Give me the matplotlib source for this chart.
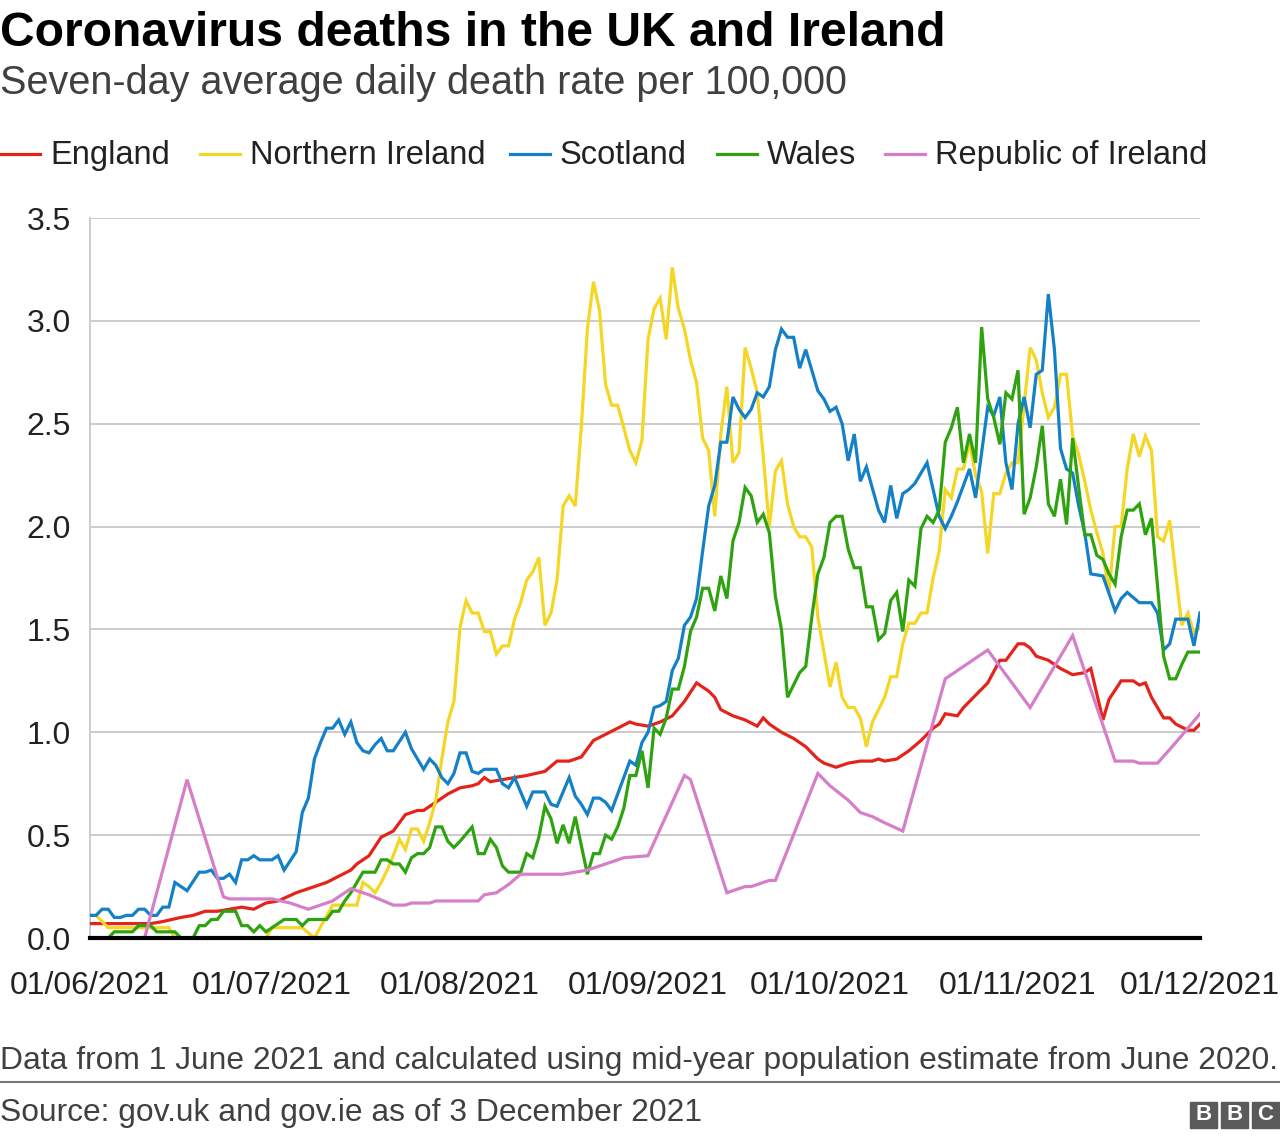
import matplotlib
matplotlib.use('Agg')
import matplotlib.pyplot as plt
import matplotlib.dates as mdates
from matplotlib.lines import Line2D
from matplotlib.patches import Rectangle
import numpy as np
import pandas as pd

plt.rcParams['font.family'] = ['Liberation Sans', 'DejaVu Sans']

start = pd.Timestamp('2021-06-01')

# day offsets from 1 June 2021 and 7-day avg death rate per 100,000
eng_days = [0, 10, 12, 15, 17, 19, 21, 23, 25, 27, 29, 31, 34, 36, 39, 41, 43, 44, 46, 48,
            50, 52, 54, 55, 57, 59, 61, 63, 64, 65, 66, 68, 70, 72, 75, 77, 79, 81, 83, 85,
            87, 89, 90, 92, 94, 96, 98, 100, 102, 103, 104, 106, 108, 110, 111, 112, 114, 116, 118, 120,
            121, 123, 125, 127, 129, 130, 131, 133, 135, 137, 139, 140, 141, 143, 144, 146, 148, 150, 151, 153,
            154, 155, 156, 158, 159, 160, 162, 164, 165, 167, 168, 170, 172, 173, 174, 175, 176, 177, 178, 179,
            181, 182, 183]
eng_vals = [0.07, 0.07, 0.08, 0.10, 0.11, 0.13, 0.13, 0.14, 0.15, 0.14, 0.17, 0.18, 0.22, 0.24, 0.27, 0.30, 0.33, 0.36, 0.40, 0.49,
            0.52, 0.60, 0.62, 0.62, 0.66, 0.70, 0.73, 0.74, 0.75, 0.78, 0.76, 0.77, 0.78, 0.79, 0.81, 0.86, 0.86, 0.88, 0.96, 0.99,
            1.02, 1.05, 1.04, 1.03, 1.05, 1.08, 1.15, 1.24, 1.20, 1.17, 1.11, 1.08, 1.06, 1.03, 1.07, 1.04, 1.00, 0.97, 0.93, 0.87,
            0.85, 0.83, 0.85, 0.86, 0.86, 0.87, 0.86, 0.87, 0.91, 0.96, 1.02, 1.04, 1.09, 1.08, 1.12, 1.18, 1.24, 1.35, 1.35, 1.43,
            1.43, 1.41, 1.37, 1.35, 1.33, 1.31, 1.28, 1.29, 1.31, 1.06, 1.16, 1.25, 1.25, 1.23, 1.24, 1.17, 1.12, 1.07, 1.07, 1.04,
            1.01, 1.01, 1.04]

ni_days = [0, 1, 3, 7, 13, 14, 29, 30, 35, 37, 40, 44, 45, 46, 47, 48, 49, 50, 51, 52,
           53, 54, 55, 56, 57, 58, 59, 60, 61, 62, 63, 64, 65, 66, 67, 68, 69, 70, 71, 72,
           73, 74, 75, 76, 77, 78, 79, 80, 81, 82, 83, 84, 85, 86, 87, 88, 89, 90, 91, 92,
           93, 94, 95, 96, 97, 98, 99, 100, 101, 102, 103, 104, 105, 106, 107, 108, 109, 110, 111, 112,
           113, 114, 115, 116, 117, 118, 119, 120, 121, 122, 123, 124, 125, 126, 127, 128, 129, 130, 131, 132,
           133, 134, 135, 136, 137, 138, 139, 140, 141, 142, 143, 144, 145, 146, 147, 148, 149, 150, 151, 152,
           153, 154, 155, 156, 157, 158, 159, 160, 161, 162, 163, 164, 165, 166, 167, 168, 169, 170, 171, 172,
           173, 174, 175, 176, 177, 178, 179, 180, 181, 182, 183]
ni_vals = [0.11, 0.11, 0.05, 0.05, 0.05, 0.0, 0.0, 0.05, 0.05, 0.0, 0.16, 0.16, 0.27, 0.25, 0.22, 0.27, 0.33, 0.40, 0.48, 0.43,
           0.53, 0.53, 0.47, 0.56, 0.67, 0.87, 1.05, 1.15, 1.51, 1.64, 1.58, 1.58, 1.49, 1.49, 1.38, 1.42, 1.42, 1.55, 1.63, 1.74,
           1.78, 1.85, 1.52, 1.58, 1.74, 2.10, 2.15, 2.10, 2.48, 2.96, 3.19, 3.05, 2.69, 2.59, 2.59, 2.48, 2.37, 2.31, 2.42, 2.91,
           3.06, 3.11, 2.91, 3.26, 3.06, 2.96, 2.81, 2.70, 2.43, 2.37, 2.05, 2.45, 2.68, 2.31, 2.36, 2.87, 2.77, 2.65, 2.34, 2.00,
           2.27, 2.32, 2.11, 2.00, 1.95, 1.95, 1.90, 1.56, 1.39, 1.22, 1.34, 1.17, 1.12, 1.12, 1.07, 0.93, 1.05, 1.11, 1.17, 1.27,
           1.27, 1.43, 1.53, 1.53, 1.58, 1.58, 1.75, 1.88, 2.18, 2.14, 2.28, 2.28, 2.41, 2.25, 2.17, 1.87, 2.16, 2.16, 2.26, 2.31,
           2.31, 2.59, 2.87, 2.81, 2.65, 2.53, 2.58, 2.74, 2.74, 2.44, 2.35, 2.22, 2.08, 1.97, 1.87, 1.68, 2.00, 2.00, 2.28, 2.45,
           2.34, 2.44, 2.37, 1.95, 1.93, 2.03, 1.77, 1.52, 1.58, 1.48, 1.51]

sco_days = [0, 1, 2, 3, 4, 5, 6, 7, 8, 9, 10, 11, 12, 13, 14, 16, 18, 19, 20, 21,
            22, 23, 24, 25, 26, 27, 28, 30, 31, 32, 34, 35, 36, 37, 38, 39, 40, 41, 42, 43,
            44, 45, 46, 47, 48, 49, 50, 52, 53, 55, 56, 57, 58, 59, 60, 61, 62, 63, 64, 65,
            67, 68, 69, 70, 72, 73, 75, 76, 77, 79, 80, 81, 82, 83, 84, 85, 86, 87, 89, 90,
            91, 92, 93, 94, 95, 96, 97, 98, 99, 100, 101, 102, 103, 104, 105, 106, 107, 108, 109, 110,
            111, 112, 113, 114, 115, 116, 117, 118, 120, 121, 122, 123, 124, 125, 126, 127, 128, 130, 131, 132,
            133, 134, 135, 136, 137, 138, 140, 141, 142, 143, 145, 146, 148, 149, 150, 151, 152, 153, 154, 155,
            156, 157, 158, 159, 160, 161, 162, 163, 164, 165, 167, 169, 170, 171, 173, 175, 176, 177, 178, 179,
            181, 182, 183]
sco_vals = [0.11, 0.11, 0.14, 0.14, 0.10, 0.10, 0.11, 0.11, 0.14, 0.14, 0.11, 0.11, 0.15, 0.15, 0.27, 0.23, 0.32, 0.32, 0.33, 0.29,
            0.29, 0.31, 0.27, 0.38, 0.38, 0.40, 0.38, 0.38, 0.40, 0.33, 0.42, 0.61, 0.68, 0.87, 0.95, 1.02, 1.02, 1.06, 0.99, 1.05,
            0.95, 0.91, 0.90, 0.94, 0.97, 0.91, 0.91, 1.00, 0.92, 0.82, 0.87, 0.84, 0.78, 0.75, 0.80, 0.90, 0.90, 0.81, 0.80, 0.82,
            0.82, 0.75, 0.73, 0.78, 0.64, 0.71, 0.71, 0.65, 0.64, 0.78, 0.69, 0.65, 0.60, 0.68, 0.68, 0.66, 0.62, 0.70, 0.86, 0.84,
            0.95, 1.00, 1.12, 1.13, 1.15, 1.30, 1.36, 1.52, 1.56, 1.65, 1.88, 2.10, 2.20, 2.41, 2.41, 2.63, 2.57, 2.53, 2.57, 2.65,
            2.63, 2.68, 2.86, 2.96, 2.92, 2.92, 2.77, 2.86, 2.66, 2.62, 2.56, 2.58, 2.50, 2.32, 2.45, 2.22, 2.29, 2.08, 2.02, 2.20,
            2.04, 2.16, 2.18, 2.21, 2.26, 2.31, 2.05, 1.99, 2.05, 2.12, 2.28, 2.14, 2.58, 2.54, 2.63, 2.31, 2.18, 2.50, 2.63, 2.48,
            2.74, 2.76, 3.13, 2.86, 2.38, 2.28, 2.26, 2.10, 1.97, 1.77, 1.76, 1.59, 1.65, 1.68, 1.63, 1.63, 1.58, 1.40, 1.43, 1.55,
            1.55, 1.42, 1.58]

wal_days = [0, 3, 4, 7, 8, 10, 11, 14, 15, 17, 18, 19, 20, 21, 22, 24, 25, 26, 27, 28,
            29, 30, 32, 34, 35, 36, 39, 40, 41, 42, 43, 45, 47, 48, 49, 50, 51, 52, 53, 54,
            55, 56, 57, 58, 59, 60, 61, 63, 64, 65, 66, 67, 68, 69, 71, 72, 73, 74, 75, 76,
            77, 78, 79, 80, 82, 83, 84, 85, 86, 87, 88, 89, 90, 91, 92, 93, 94, 95, 96, 97,
            98, 99, 100, 101, 102, 103, 104, 105, 106, 107, 108, 109, 110, 111, 112, 113, 114, 115, 116, 117,
            118, 119, 120, 121, 122, 123, 124, 125, 126, 127, 128, 129, 130, 131, 132, 133, 134, 135, 136, 137,
            138, 139, 140, 141, 142, 143, 144, 145, 146, 147, 148, 149, 150, 151, 152, 153, 154, 155, 156, 157,
            158, 159, 160, 161, 162, 163, 164, 165, 166, 167, 168, 169, 170, 171, 172, 173, 174, 175, 176, 177,
            178, 179, 180, 181, 183]
wal_vals = [0.0, 0.0, 0.03, 0.03, 0.06, 0.06, 0.03, 0.03, 0.0, 0.0, 0.06, 0.06, 0.09, 0.09, 0.13, 0.13, 0.06, 0.06, 0.03, 0.06,
            0.03, 0.05, 0.09, 0.09, 0.06, 0.09, 0.09, 0.13, 0.13, 0.18, 0.22, 0.32, 0.32, 0.38, 0.38, 0.36, 0.36, 0.32, 0.39, 0.41,
            0.41, 0.44, 0.54, 0.54, 0.47, 0.44, 0.47, 0.54, 0.41, 0.41, 0.48, 0.44, 0.35, 0.32, 0.32, 0.41, 0.39, 0.49, 0.64, 0.58,
            0.46, 0.55, 0.46, 0.59, 0.31, 0.41, 0.41, 0.50, 0.48, 0.54, 0.63, 0.79, 0.79, 0.91, 0.73, 1.02, 0.99, 1.07, 1.21, 1.21,
            1.32, 1.49, 1.56, 1.70, 1.70, 1.59, 1.76, 1.65, 1.93, 2.02, 2.19, 2.15, 2.02, 2.06, 1.97, 1.66, 1.50, 1.17, 1.23, 1.29,
            1.32, 1.56, 1.77, 1.85, 2.02, 2.05, 2.05, 1.89, 1.80, 1.80, 1.61, 1.61, 1.45, 1.48, 1.64, 1.68, 1.49, 1.74, 1.71, 1.99,
            2.05, 2.02, 2.08, 2.41, 2.48, 2.58, 2.31, 2.45, 2.31, 2.97, 2.62, 2.53, 2.40, 2.65, 2.62, 2.76, 2.06, 2.14, 2.29, 2.49,
            2.11, 2.05, 2.23, 2.01, 2.43, 2.19, 1.96, 1.96, 1.86, 1.84, 1.77, 1.72, 1.95, 2.08, 2.08, 2.11, 1.96, 2.04, 1.71, 1.37,
            1.26, 1.26, 1.33, 1.39, 1.39]

roi_days = [0, 9, 16, 22, 23, 30, 33, 36, 37, 40, 43, 46, 50, 52, 53, 56, 57, 64, 65, 67,
            69, 71, 78, 80, 82, 85, 88, 92, 98, 99, 105, 108, 109, 112, 113, 120, 122, 125, 127, 129,
            131, 134, 141, 148, 155, 162, 169, 172, 173, 176, 179, 181, 183]
roi_vals = [0.0, 0.0, 0.77, 0.20, 0.19, 0.19, 0.17, 0.14, 0.15, 0.18, 0.24, 0.21, 0.16, 0.16, 0.17, 0.17, 0.18, 0.18, 0.21, 0.22,
            0.26, 0.31, 0.31, 0.32, 0.33, 0.36, 0.39, 0.40, 0.79, 0.77, 0.22, 0.25, 0.25, 0.28, 0.28, 0.80, 0.74, 0.67, 0.61, 0.59,
            0.56, 0.52, 1.26, 1.40, 1.12, 1.47, 0.86, 0.86, 0.85, 0.85, 0.95, 1.02, 1.09]

series = [
    ('England', eng_days, eng_vals, '#e4231b'),
    ('Northern Ireland', ni_days, ni_vals, '#f5d624'),
    ('Scotland', sco_days, sco_vals, '#1380c8'),
    ('Wales', wal_days, wal_vals, '#2ea30f'),
    ('Republic of Ireland', roi_days, roi_vals, '#d67ec8'),
]

W, H = 1280, 1138
fig = plt.figure(figsize=(W / 100, H / 100), dpi=100)


def fx(x):
    return x / W


def fy(y):
    return 1 - y / H


ax = fig.add_axes([fx(90), fy(938), fx(1200) - fx(90), fy(218) - fy(938)])

for name, days, vals, col in series:
    dates = start + pd.to_timedelta(days, unit='D')
    ax.plot(dates, vals, color=col, lw=2.3, solid_joinstyle='miter', zorder=3)

ax.set_xlim(start, pd.Timestamp('2021-12-01'))
ax.set_ylim(0, 3.5)
ax.set_yticks(np.arange(0, 3.51, 0.5))
ax.set_yticklabels(['%.1f' % v for v in np.arange(0, 3.51, 0.5)])
xt = pd.to_datetime(['2021-06-01', '2021-07-01', '2021-08-01', '2021-09-01',
                     '2021-10-01', '2021-11-01', '2021-12-01'])
ax.set_xticks(xt)
ax.xaxis.set_major_formatter(mdates.DateFormatter('%d/%m/%Y'))

ax.grid(axis='y', color='#cccccc', lw=1.4)
ax.set_axisbelow(True)
for s in ['top', 'right', 'bottom']:
    ax.spines[s].set_visible(False)
ax.spines['left'].set_color('#cccccc')
ax.spines['left'].set_linewidth(1.4)
ax.axhline(0, color='black', lw=3, zorder=4, clip_on=False)
ax.tick_params(axis='both', length=0, labelsize=23, colors='#222222')
ax.tick_params(axis='y', pad=14)
ax.tick_params(axis='x', pad=24)

fig.text(0, fy(46), 'Coronavirus deaths in the UK and Ireland', fontsize=34.6,
         fontweight='bold', color='black', va='baseline', ha='left')
fig.text(0, fy(94), 'Seven-day average daily death rate per 100,000', fontsize=28.5,
         color='#404040', va='baseline', ha='left')

leg_x = [0, 200, 510, 717, 885]
for (name, days, vals, col), lx in zip(series, leg_x):
    fig.add_artist(Line2D([fx(lx), fx(lx + 40)], [fy(154), fy(154)], color=col, lw=2.3))
    fig.text(fx(lx + 50), fy(164), name, fontsize=23.5, color='#222222',
             va='baseline', ha='left')

fig.text(0, fy(1069), 'Data from 1 June 2021 and calculated using mid-year population '
         'estimate from June 2020.', fontsize=22.9, color='#404040', va='baseline', ha='left')
fig.add_artist(Line2D([0, 1], [fy(1082), fy(1082)], color='#777777', lw=1.5))
fig.text(0, fy(1121), 'Source: gov.uk and gov.ie as of 3 December 2021', fontsize=22.9,
         color='#404040', va='baseline', ha='left')

for i, letter in enumerate('BBC'):
    x0 = 1190 + i * 31
    fig.add_artist(Rectangle((fx(x0), fy(1128)), fx(27), 26 / H, color='#5a5a5a'))
    fig.text(fx(x0 + 13.5), fy(1115), letter, fontsize=16, fontweight='bold',
             color='white', ha='center', va='center')

fig.savefig('out.png', dpi=100)
